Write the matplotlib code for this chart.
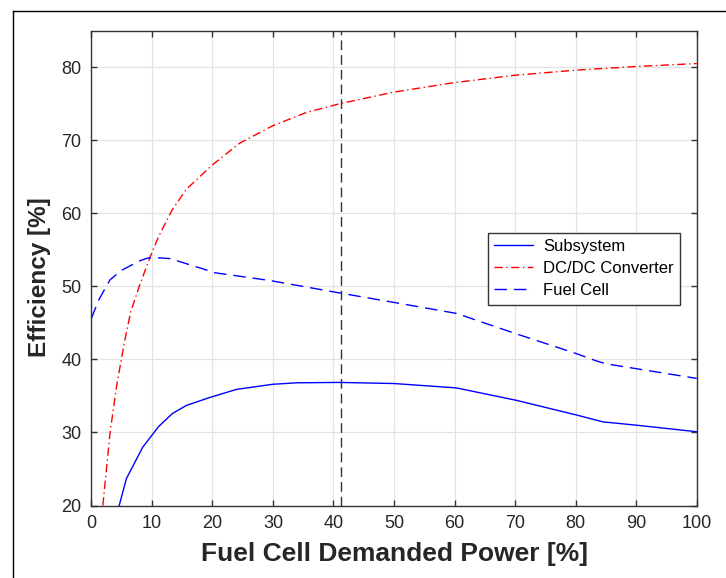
import matplotlib
matplotlib.use("Agg")
import matplotlib.pyplot as plt
from matplotlib.lines import Line2D

# ---- data ----
sub_x = [4.6, 5.8, 8.5, 11.1, 13.4, 15.7, 19.6, 24.0, 30.0, 34.0, 41.0, 50.0, 60.3, 70.2, 80.1, 84.5, 90.0, 100.0]
sub_y = [20.0, 23.7, 28.0, 30.8, 32.6, 33.7, 34.8, 35.9, 36.6, 36.8, 36.85, 36.7, 36.1, 34.4, 32.4, 31.45, 31.0, 30.1]

dc_x = [1.9, 3.1, 4.2, 5.5, 6.5, 8.0, 9.7, 11.1, 13.3, 15.7, 20.1, 24.5, 30.0, 35.5, 41.0, 50.0, 60.0, 70.0, 80.0, 90.0, 100.0]
dc_y = [20.0, 30.0, 36.5, 42.5, 46.5, 50.2, 54.0, 56.8, 60.4, 63.3, 66.7, 69.6, 72.0, 73.8, 75.0, 76.6, 77.9, 78.9, 79.6, 80.1, 80.5]

fc_x = [0.0, 1.2, 2.4, 3.1, 5.0, 8.0, 9.4, 11.3, 13.0, 18.8, 20.1, 29.5, 41.0, 50.0, 60.3, 70.2, 80.1, 83.4, 85.0, 100.0]
fc_y = [45.6, 48.1, 49.9, 50.9, 52.2, 53.5, 53.9, 53.9, 53.8, 52.3, 51.9, 50.8, 49.1, 47.8, 46.3, 43.5, 40.8, 39.8, 39.4, 37.4]

marker_x = 41.25
series_labels = ["Subsystem", "DC/DC Converter", "Fuel Cell"]
x_ticks = [0, 10, 20, 30, 40, 50, 60, 70, 80, 90, 100]
y_ticks = [20, 30, 40, 50, 60, 70, 80]

fam = ["Liberation Sans", "DejaVu Sans"]

fig = plt.figure(figsize=(7.26, 5.78), dpi=100)
ax = fig.add_axes([0.1258, 0.1254, 0.8339, 0.8215])

ax.plot(sub_x, sub_y, color="#0000ff", lw=1.0, ls="-", label=series_labels[0])
ax.plot(dc_x, dc_y, color="#ff0000", lw=1.0, ls=(0, (6, 2.5, 1, 2.5)), label=series_labels[1])
ax.plot(fc_x, fc_y, color="#0000ff", lw=1.0, ls=(0, (9, 5)), label=series_labels[2])
ax.axvline(marker_x, color="#333333", lw=1.0, ls=(0, (7, 3.6)))

ax.set_xlim(0, 100)
ax.set_ylim(20, 85)
ax.set_xticks(x_ticks)
ax.set_yticks(y_ticks)
ax.grid(True, color="#e3e3e3", lw=0.9)
ax.set_axisbelow(True)
ax.tick_params(direction="in", length=4, width=1.0, color="#333333",
               top=True, right=True, labelsize=13, labelcolor="#262626", pad=7)
for lab in ax.get_xticklabels() + ax.get_yticklabels():
    lab.set_family(fam)
for sp in ax.spines.values():
    sp.set_color("#333333")
    sp.set_linewidth(1.0)

ax.set_xlabel("Fuel Cell Demanded Power [%]", fontsize=19, fontweight="bold",
              family=fam, color="#262626", labelpad=7)
ax.set_ylabel("Efficiency [%]", fontsize=17.5, fontweight="bold",
              family=fam, color="#262626", labelpad=7)
ax.yaxis.set_label_coords(-0.066, 0.48)

leg = ax.legend(loc="upper left", bbox_to_anchor=(0.655, 0.574), borderaxespad=0,
                fancybox=False, framealpha=1, edgecolor="#333333",
                prop={"family": fam, "size": 12}, handlelength=2.3,
                handletextpad=0.65, labelspacing=0.42, borderpad=0.38)
leg.get_frame().set_linewidth(1.0)

# outer frame
fig.add_artist(Line2D([0.0175, 0.0175], [0.0, 0.9815], transform=fig.transFigure, color="black", lw=1.0))
fig.add_artist(Line2D([0.0175, 1.0], [0.9815, 0.9815], transform=fig.transFigure, color="black", lw=1.0))

fig.savefig("out.png", dpi=100)
